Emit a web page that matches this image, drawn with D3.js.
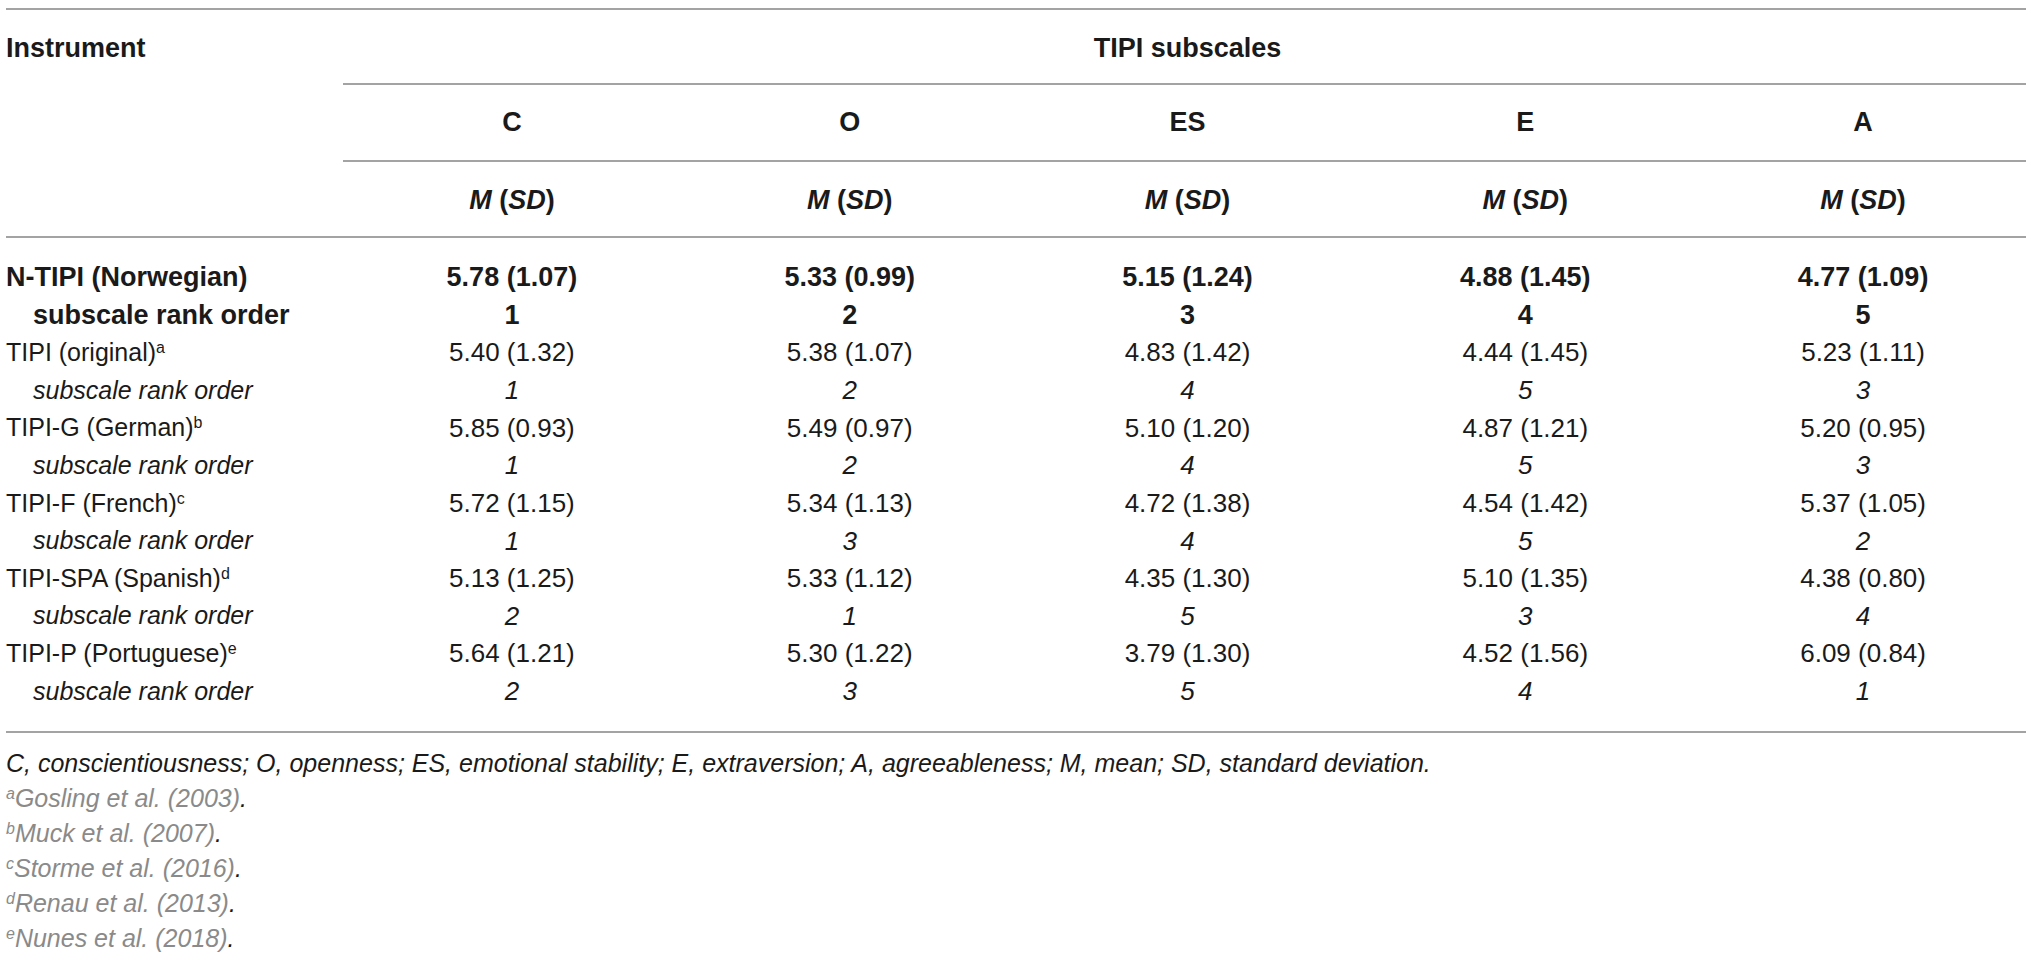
<!DOCTYPE html>
<html>
<head>
<meta charset="utf-8">
<script src="https://cdn.jsdelivr.net/npm/d3@7"></script>
<style>
  body { margin: 0; background: #fff; }
  text { font-family: "Liberation Sans", Arial, sans-serif; fill: #1a1a1a; }
</style>
</head>
<body>
<div id="table"></div>
<script>
var svgWidth = 2032;
var svgHeight = 964;

// table data
var subscales = ["C", "O", "ES", "E", "A"];
var instruments = ["N-TIPI (Norwegian)", "TIPI (original)", "TIPI-G (German)", "TIPI-F (French)", "TIPI-SPA (Spanish)", "TIPI-P (Portuguese)"];
var noteMarks = ["", "a", "b", "c", "d", "e"];
var means = [
  [5.78, 5.33, 5.15, 4.88, 4.77],
  [5.40, 5.38, 4.83, 4.44, 5.23],
  [5.85, 5.49, 5.10, 4.87, 5.20],
  [5.72, 5.34, 4.72, 4.54, 5.37],
  [5.13, 5.33, 4.35, 5.10, 4.38],
  [5.64, 5.30, 3.79, 4.52, 6.09]
];
var sds = [
  [1.07, 0.99, 1.24, 1.45, 1.09],
  [1.32, 1.07, 1.42, 1.45, 1.11],
  [0.93, 0.97, 1.20, 1.21, 0.95],
  [1.15, 1.13, 1.38, 1.42, 1.05],
  [1.25, 1.12, 1.30, 1.35, 0.80],
  [1.21, 1.22, 1.30, 1.56, 0.84]
];
var ranks = [
  [1, 2, 3, 4, 5],
  [1, 2, 4, 5, 3],
  [1, 2, 4, 5, 3],
  [1, 3, 4, 5, 2],
  [2, 1, 5, 3, 4],
  [2, 3, 5, 4, 1]
];
var abbrevNote = "C, conscientiousness; O, openness; ES, emotional stability; E, extraversion; A, agreeableness; M, mean; SD, standard deviation.";
var references = ["Gosling et al. (2003)", "Muck et al. (2007)", "Storme et al. (2016)", "Renau et al. (2013)", "Nunes et al. (2018)"];

var svg = d3.select("#table")
  .append("svg")
  .attr("width", svgWidth)
  .attr("height", svgHeight);

var left = 6, right = 2026, colStart = 343;
var ruleColor = "#a3a3a3";
var fsBold = 27, fsLabel = 25, fsNum = 26, fsNote = 25, fsSup = 16;

var x = d3.scaleBand().domain(subscales).range([colStart, 2032]);
var y = d3.scaleLinear().domain([0, 11]).range([277, 691]);
var yNote = d3.scaleLinear().domain([0, 5]).range([763, 938]);

function rule(yPos, x1) {
  svg.append("line")
    .attr("x1", x1).attr("x2", right)
    .attr("y1", yPos).attr("y2", yPos)
    .attr("stroke", ruleColor)
    .attr("stroke-width", 2);
}

// rules
rule(9, left);
rule(84, colStart);
rule(161, colStart);
rule(237, left);
rule(732, left);

// header
svg.append("text")
  .attr("x", left).attr("y", 48).attr("dy", "0.35em")
  .attr("font-size", fsBold).attr("font-weight", "bold")
  .text("Instrument");

svg.append("text")
  .attr("x", (colStart + 2032) / 2).attr("y", 48).attr("dy", "0.35em")
  .attr("text-anchor", "middle")
  .attr("font-size", fsBold).attr("font-weight", "bold")
  .text("TIPI subscales");

svg.selectAll(".colHead")
  .data(subscales)
  .enter()
  .append("text")
  .attr("class", "colHead")
  .attr("x", function(d) { return x(d) + x.bandwidth() / 2; })
  .attr("y", 122).attr("dy", "0.35em")
  .attr("text-anchor", "middle")
  .attr("font-size", fsBold).attr("font-weight", "bold")
  .text(function(d) { return d; });

var msd = svg.selectAll(".msd")
  .data(subscales)
  .enter()
  .append("text")
  .attr("class", "msd")
  .attr("x", function(d) { return x(d) + x.bandwidth() / 2; })
  .attr("y", 200).attr("dy", "0.35em")
  .attr("text-anchor", "middle")
  .attr("font-size", fsBold).attr("font-weight", "bold");
msd.append("tspan").attr("font-style", "italic").text("M");
msd.append("tspan").text(" (");
msd.append("tspan").attr("font-style", "italic").text("SD");
msd.append("tspan").text(")");

// body rows
instruments.forEach(function(name, i) {
  var first = i === 0;
  var bold = first ? "bold" : "normal";
  var rowY = y(i * 2);
  var rankY = y(i * 2 + 1);

  var label = svg.append("text")
    .attr("x", left).attr("y", rowY).attr("dy", "0.35em")
    .attr("font-size", first ? fsBold : fsLabel).attr("font-weight", bold);
  label.append("tspan").text(name);
  if (noteMarks[i]) {
    label.append("tspan")
      .attr("font-size", fsSup)
      .attr("baseline-shift", "super")
      .text(noteMarks[i]);
  }

  svg.append("text")
    .attr("x", 33).attr("y", rankY).attr("dy", "0.35em")
    .attr("font-size", first ? fsBold : fsLabel).attr("font-weight", bold)
    .attr("font-style", first ? "normal" : "italic")
    .text("subscale rank order");

  svg.selectAll(".m" + i)
    .data(subscales)
    .enter()
    .append("text")
    .attr("x", function(d) { return x(d) + x.bandwidth() / 2; })
    .attr("y", rowY).attr("dy", "0.35em")
    .attr("text-anchor", "middle")
    .attr("font-size", first ? fsBold : fsNum).attr("font-weight", bold)
    .text(function(d, j) { return means[i][j].toFixed(2) + " (" + sds[i][j].toFixed(2) + ")"; });

  svg.selectAll(".r" + i)
    .data(subscales)
    .enter()
    .append("text")
    .attr("x", function(d) { return x(d) + x.bandwidth() / 2; })
    .attr("y", rankY).attr("dy", "0.35em")
    .attr("text-anchor", "middle")
    .attr("font-size", first ? fsBold : fsNum).attr("font-weight", bold)
    .attr("font-style", first ? "normal" : "italic")
    .text(function(d, j) { return ranks[i][j]; });
});

// footnotes
svg.append("text")
  .attr("x", left).attr("y", yNote(0)).attr("dy", "0.35em")
  .attr("font-size", fsNote).attr("font-style", "italic")
  .text(abbrevNote);

references.forEach(function(ref, i) {
  var t = svg.append("text")
    .attr("x", left).attr("y", yNote(i + 1)).attr("dy", "0.35em")
    .attr("font-size", fsNote).attr("font-style", "italic");
  t.append("tspan")
    .attr("font-size", fsSup)
    .attr("baseline-shift", "super")
    .style("fill", "#8a8a8a")
    .text(noteMarks[i + 1]);
  t.append("tspan").style("fill", "#8a8a8a").text(ref);
  t.append("tspan").text(".");
});
</script>
</body>
</html>
